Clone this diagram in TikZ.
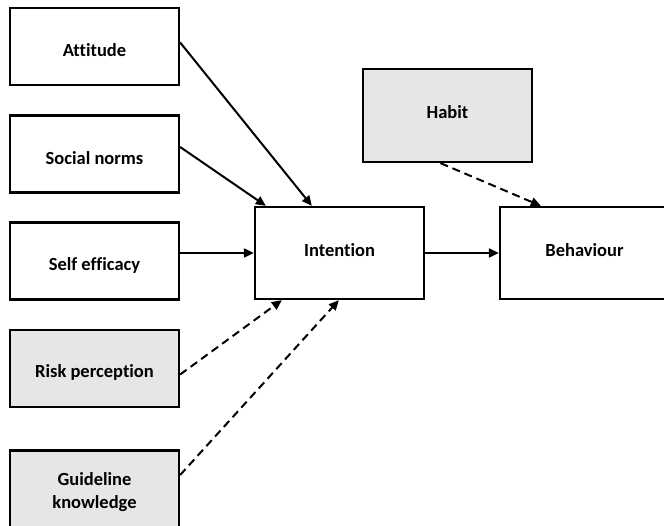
\documentclass[tikz,border=0pt]{standalone}
\usepackage{fontspec}
\setmainfont[Ligatures=NoCommon]{Carlito}
\usetikzlibrary{arrows.meta,calc}
\definecolor{boxgrey}{HTML}{E6E6E6}
\newcommand{\lowtext}[2]{\raisebox{#1}[\height][\depth]{#2}}
\tikzset{
  box/.style={draw=black, line width=2.3pt, fill=white, minimum width=169pt, minimum height=77pt, inner sep=0pt, align=center, font=\fontsize{18.5}{22}\selectfont\bfseries},
  greybox/.style={box, fill=boxgrey},
  link/.style={line width=2pt, -{Triangle[length=10pt,width=9pt]}},
  dlink/.style={link, dash pattern=on 8pt off 5pt},
}
\begin{document}
\begin{tikzpicture}[x=1pt,y=-1pt]
\useasboundingbox (0,0) rectangle (664,526);
\clip (0,0) rectangle (664,526);
\node[box] (att) at (94.5,46.5) {\lowtext{-4pt}{Attitude}};
\node[box] (soc) at (94.5,154) {\lowtext{-4pt}{Social norms}};
\node[box] (self) at (94.5,261) {\lowtext{-4pt}{Self efficacy}};
\node[greybox] (risk) at (94.5,368.5) {\lowtext{-4pt}{Risk perception}};
\node[greybox] (guide) at (94.5,489) {\lowtext{-4pt}{\begin{tabular}{@{}c@{}}Guideline\\[1pt]knowledge\end{tabular}}};
\node[box, minimum height=92pt] (int) at (339.5,253) {\lowtext{3pt}{Intention}};
\node[box, minimum height=92pt] (beh) at (584.5,253) {\lowtext{3pt}{Behaviour}};
\node[greybox, minimum height=93pt] (hab) at (447.5,115.5) {\lowtext{3pt}{Habit}};
\draw[link] ($(att.east)+(0,-4)$) -- ($(int.north west)+(58,0)$);
\draw[link] ($(soc.east)+(0,-7)$) -- ($(int.north west)+(12,0)$);
\draw[link] ($(self.east)+(0,-8)$) -- (int.west);
\draw[link] (int.east) -- (beh.west);
\draw[dlink] ($(risk.east)+(0,6)$) -- ($(int.south west)+(28,0)$);
\draw[dlink] ($(guide.east)+(0,-14)$) -- ($(int.south west)+(85,0)$);
\draw[dlink] ($(hab.south)+(-7,0)$) -- ($(beh.north west)+(42,0)$);
\end{tikzpicture}
\end{document}
